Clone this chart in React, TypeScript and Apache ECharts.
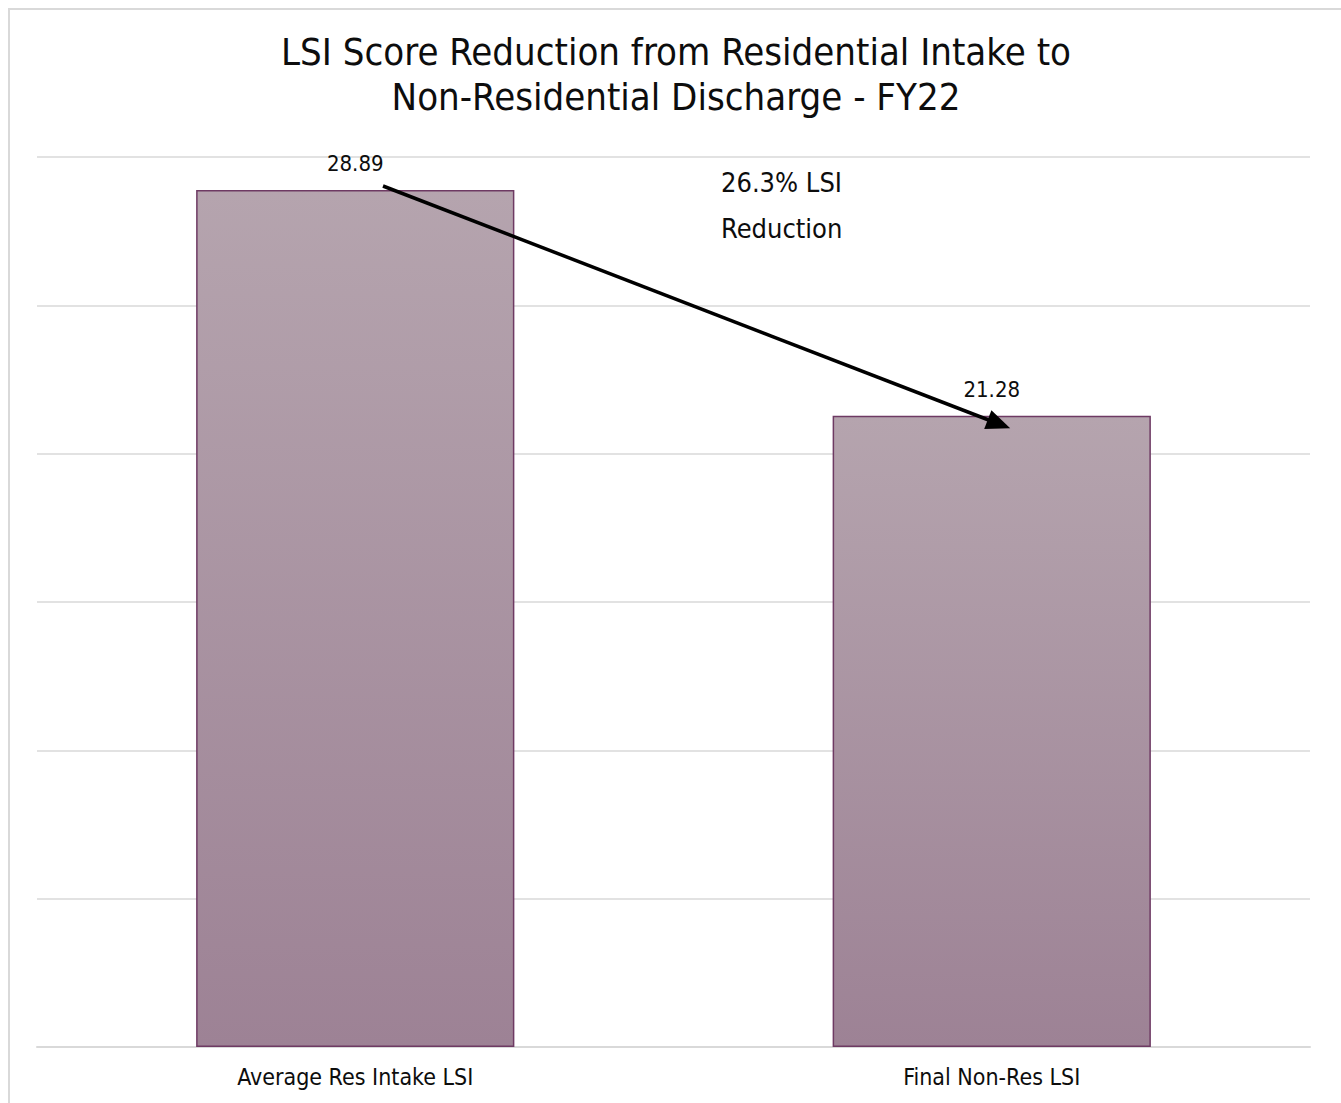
import React, { useEffect, useRef } from "react";
import * as echarts from "echarts";

const categories = ["Average Res Intake LSI", "Final Non-Res LSI"];
const scores = [28.89, 21.28];
const titleText = "LSI Score Reduction from Residential Intake to\nNon-Residential Discharge - FY22";
const noteLines = ["26.3% LSI", "Reduction"];

const FONT = "'DejaVu Sans Condensed', 'Noto Sans', sans-serif";

export default function App() {
  const ref = useRef<HTMLDivElement>(null);

  useEffect(() => {
    document.documentElement.style.overflow = "hidden";
    const chart = echarts.init(ref.current!, null, { renderer: "svg" });
    chart.setOption({
      animation: false,
      backgroundColor: "#ffffff",
      textStyle: { fontFamily: FONT },
      title: {
        text: titleText,
        left: "center",
        top: 16,
        textStyle: {
          fontFamily: FONT,
          fontSize: 38,
          fontWeight: "normal",
          color: "#0d0d0d",
          lineHeight: 45,
        },
      },
      grid: { left: 29, right: 34, top: 149, bottom: 71 },
      xAxis: {
        type: "category",
        data: categories,
        axisLine: { lineStyle: { color: "#d9d9d9", width: 2 } },
        axisTick: { show: false },
        axisLabel: { color: "#0d0d0d", fontSize: 23, margin: 18, fontFamily: FONT },
      },
      yAxis: {
        type: "value",
        min: 0,
        max: 30,
        interval: 5,
        axisLabel: { show: false },
        axisLine: { show: false },
        axisTick: { show: false },
        splitLine: { lineStyle: { color: "#d9d9d9", width: 1.5 } },
      },
      series: [
        {
          type: "bar",
          data: scores,
          barWidth: "50%",
          itemStyle: {
            color: new echarts.graphic.LinearGradient(0, 0, 0, 1, [
              { offset: 0, color: "#b5a4ae" },
              { offset: 1, color: "#9d8295" },
            ]),
            borderColor: "#6e3a63",
            borderWidth: 1.5,
          },
          label: {
            show: true,
            position: "top",
            distance: 15,
            fontSize: 22,
            color: "#0d0d0d",
            fontFamily: FONT,
          },
          markLine: {
            silent: true,
            symbol: ["none", "triangle"],
            symbolSize: [20, 24],
            label: { show: false },
            lineStyle: { color: "#000000", width: 3.5, type: "solid" },
            data: [[{ x: 375, y: 178 }, { x: 991, y: 416 }]],
          },
        },
      ],
      graphic: [
        {
          type: "rect",
          shape: { x: 1, y: 1, width: 1360, height: 1200 },
          style: { fill: "none", stroke: "#d9d9d9", lineWidth: 2 },
          silent: true,
        },
        {
          type: "text",
          left: 713,
          top: 151,
          style: {
            text: noteLines.join("\n"),
            font: `27px ${FONT}`,
            fill: "#0d0d0d",
            lineHeight: 46,
          },
        },
      ],
    });
    return () => chart.dispose();
  }, []);

  return (
    <div
      style={{
        position: "fixed",
        left: 8,
        top: 8,
        width: 1333,
        height: 1095,
        overflow: "hidden",
      }}
    >
      <div ref={ref} style={{ width: 1336, height: 1110 }} />
    </div>
  );
}
